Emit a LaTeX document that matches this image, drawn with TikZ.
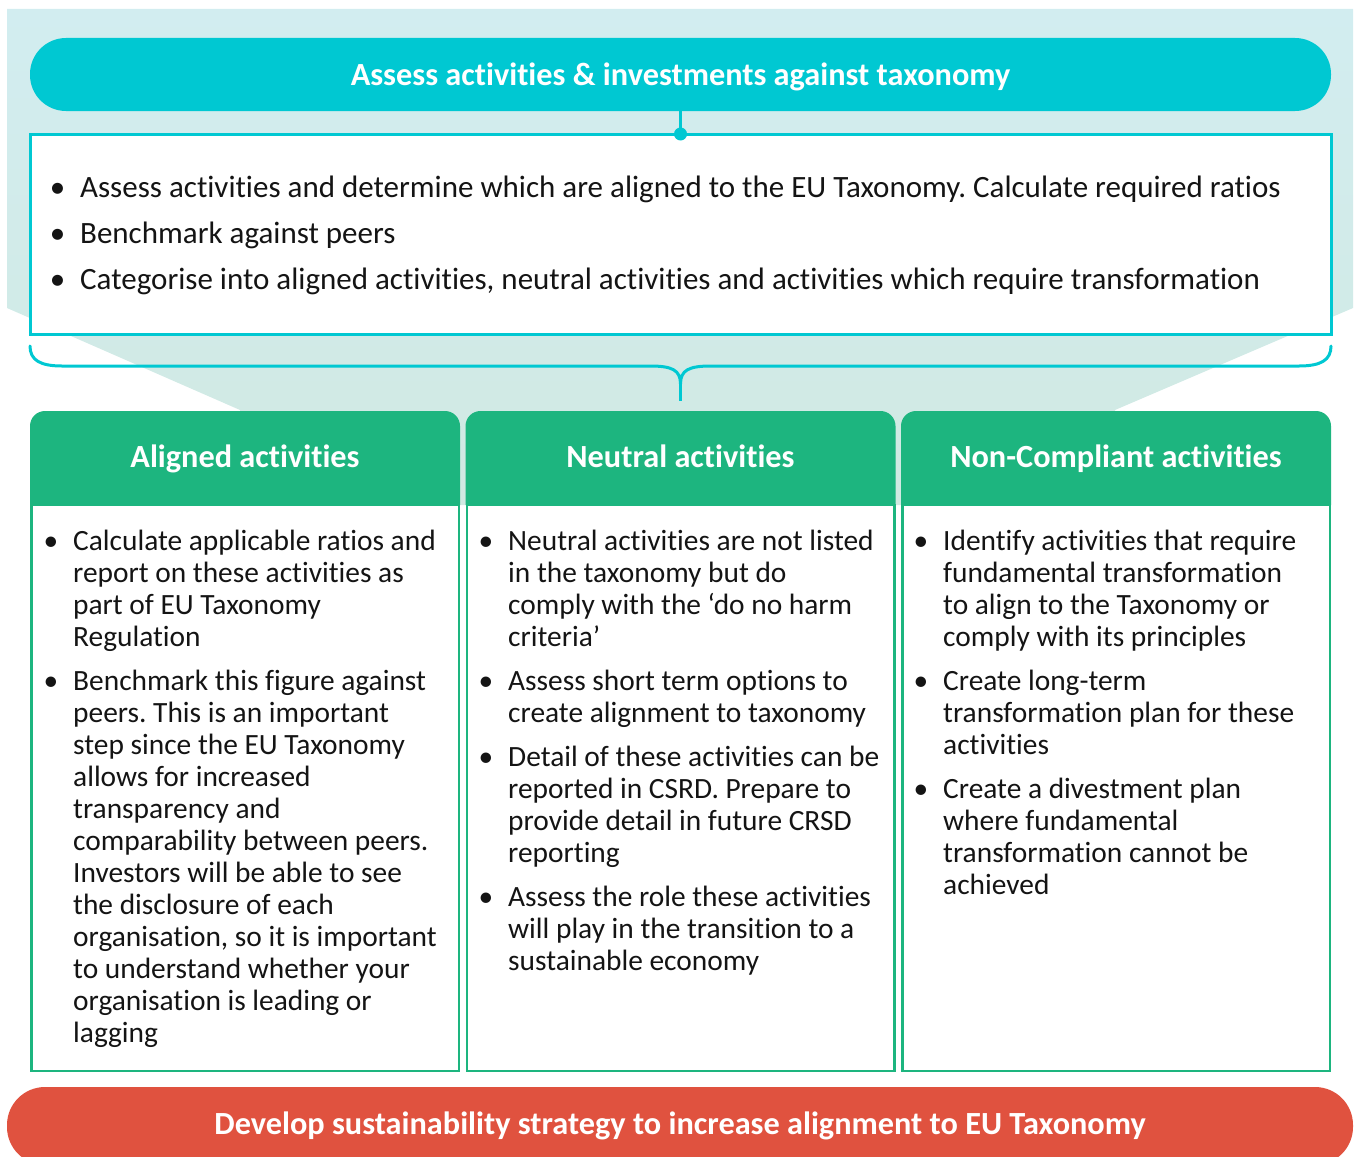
\documentclass[tikz,border=0pt]{standalone}
\usepackage{fontspec}
\setmainfont{Carlito}[Ligatures={NoCommon}]
\frenchspacing
\definecolor{tealbar}{HTML}{00C8D2}
\definecolor{colgreen}{HTML}{1DB57F}
\definecolor{redbar}{HTML}{E0523F}
\definecolor{bgtop}{HTML}{D2EDF0}
\definecolor{bgbot}{HTML}{D1E9E2}
\definecolor{ink}{HTML}{141414}
% bullet hung to the left of the text column
\newcommand\bpt{\par\noindent\llap{\textbullet\hspace{15pt}}}
\begin{document}
\begin{tikzpicture}[x=1pt,y=-1pt,
  pill/.style={inner sep=0pt, text=white, font=\bfseries\fontsize{32.3}{36}\selectfont},
  hdrtext/.style={anchor=base, inner sep=0pt, text=white, font=\bfseries\fontsize{32.3}{36}\selectfont},
  topcopy/.style={anchor=base west, inner sep=0pt, text=ink, font=\fontsize{31}{46}\selectfont},
  colcopy/.style={anchor=base west, inner sep=0pt, text=ink, font=\fontsize{29.4}{32}\selectfont},
  colframe/.style={draw=colgreen, line width=2.5pt, fill=white},
  colhead/.style={fill=colgreen}]
\clip (0,0) rectangle (1356,1156);

% tinted backdrop funnelling into the three columns
\shade[top color=bgtop, bottom color=bgbot]
  (7,9) -- (1353,9) -- (1353,308) -- (1115,410) -- (1115,505)
  -- (240,505) -- (240,410) -- (7,308) -- cycle;

% headline bar
\node[pill, fill=tealbar, rounded corners=36pt, minimum width=1301pt,
      minimum height=73pt, text height=24pt, text depth=3pt] (title) at (680.5,74.5)
  {Assess activities \& investments against taxonomy};

% scope box
\node[draw=tealbar, line width=3pt, fill=white, minimum width=1301pt,
      minimum height=200pt] (scope) at (680.5,234) {};
\node[circle, fill=tealbar, minimum size=13pt, inner sep=0pt] (hub) at (680.5,134) {};
\draw[tealbar, line width=2.5pt] (title.south) -- (hub.center);

\node[topcopy] (scopetext) at (80,197) {\begin{minipage}[t]{1260pt}%
\bpt Assess activities and determine which are aligned to the EU Taxonomy. Calculate required ratios
\bpt Benchmark against peers
\bpt Categorise into aligned activities, neutral activities and activities which require transformation
\end{minipage}};

% brace gathering the scope into the columns
\coordinate (braceL) at (30,346);
\coordinate (braceR) at (1331,346);
\coordinate (braceTip) at (680.5,401);
\draw[tealbar, line width=3pt, line cap=round]
  (braceL) .. controls (30,360) and (40,366) .. (62,366) -- (650,366)
  .. controls (672,366) and (680.5,370) .. (680.5,384)
  .. controls (680.5,370) and (689,366) .. (711,366) -- (1299,366)
  .. controls (1321,366) and (1331,360) .. (braceR);
\draw[tealbar, line width=3pt] (680.5,380) -- (braceTip);

% three columns
\foreach \x in {30,465.5,901}{
  \draw[colframe] (\x+1.25,505) rectangle (\x+428.75,1070.75);
  \fill[colhead] (\x,505) [rounded corners=15pt]-- (\x,411) -- (\x+430,411) [sharp corners]-- (\x+430,505) -- cycle;
}
\node[hdrtext] (hA) at (245,467) {Aligned activities};
\node[hdrtext] (hB) at (680.5,467) {Neutral activities};
\node[hdrtext] (hC) at (1116,467) {Non-Compliant activities};

\node[colcopy] (tA) at (73,550) {\begin{minipage}[t]{420pt}%
\setlength\parskip{12pt}%
\bpt Calculate applicable ratios and\\report on these activities as\\part of EU Taxonomy\\Regulation
\bpt Benchmark this figure against\\peers. This is an important\\step since the EU Taxonomy\\allows for increased\\transparency and\\comparability between peers.\\Investors will be able to see\\the disclosure of each\\organisation, so it is important\\to understand whether your\\organisation is leading or\\lagging
\end{minipage}};

\node[colcopy] (tB) at (508,550) {\begin{minipage}[t]{420pt}%
\setlength\parskip{12pt}%
\bpt Neutral activities are not listed\\in the taxonomy but do\\comply with the ‘do no harm\\criteria’
\bpt Assess short term options to\\create alignment to taxonomy
\bpt Detail of these activities can be\\reported in CSRD. Prepare to\\provide detail in future CRSD\\reporting
\bpt Assess the role these activities\\will play in the transition to a\\sustainable economy
\end{minipage}};

\node[colcopy] (tC) at (943,550) {\begin{minipage}[t]{420pt}%
\setlength\parskip{12pt}%
\bpt Identify activities that require\\fundamental transformation\\to align to the Taxonomy or\\comply with its principles
\bpt Create long-term\\transformation plan for these\\activities
\bpt Create a divestment plan\\where fundamental\\transformation cannot be\\achieved
\end{minipage}};

% closing bar
\node[pill, fill=redbar, rounded corners=38pt, minimum width=1346pt,
      minimum height=78pt, text height=22pt, text depth=6pt] (goal) at (680,1126)
  {Develop sustainability strategy to increase alignment to EU Taxonomy};
\end{tikzpicture}
\end{document}
